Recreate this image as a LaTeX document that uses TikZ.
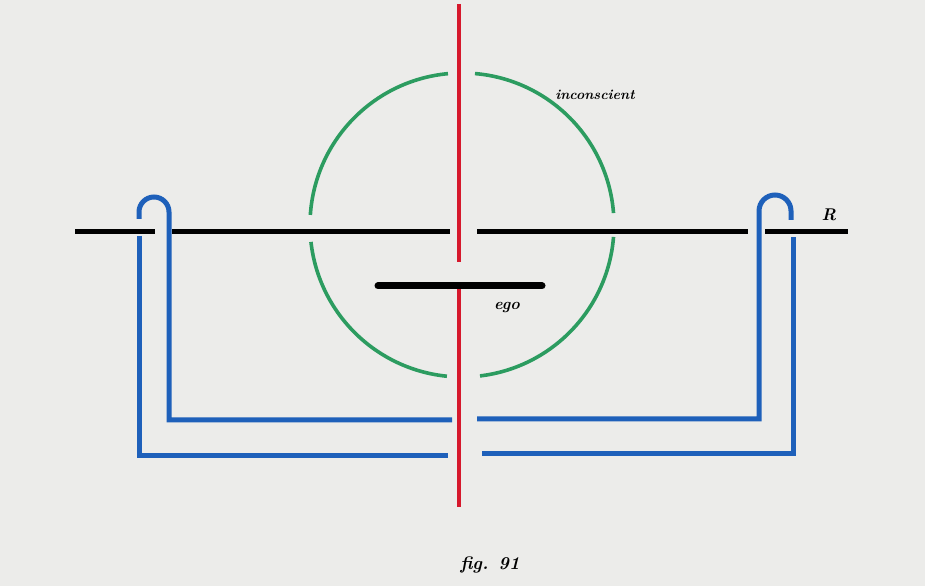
\documentclass[tikz,border=0pt]{standalone}
\usepackage{fontspec}
\definecolor{paper}{RGB}{236,236,234}
\definecolor{axisred}{RGB}{214,24,44}
\definecolor{ringgreen}{RGB}{44,156,96}
\definecolor{loopblue}{RGB}{30,96,186}
\begin{document}
\begin{tikzpicture}[x=1pt,y=1pt,
    redline/.style={axisred,line width=4pt},
    greenring/.style={ringgreen,line width=3.6pt},
    blackbar/.style={black,line width=5pt},
    knot/.style={loopblue,line width=5pt,line join=miter},
    hand/.style={font=\bfseries\itshape}]
    \useasboundingbox[fill=paper] (0,0) rectangle (925,586);

    % Red vertical: upper part and the T under the ego bar
    \draw[redline] (459,582) -- (459,324);
    \draw[redline] (459,300) -- (459,79);

    % Green circle, broken where the lines pass
    \draw[greenring] (462,361) ++(4.5:152) arc (4.5:85.1:152);
    \draw[greenring] (462,361) ++(95.3:152) arc (95.3:176.2:152);
    \draw[greenring] (462,361) ++(186.4:152) arc (186.4:264.3:152);
    \draw[greenring] (462,361) ++(276.8:152) arc (276.8:355.5:152);

    % Black line R, cut where the blue passes over it
    \draw[blackbar] (75,354) -- (155,354);
    \draw[blackbar] (172,354) -- (450,354);
    \draw[blackbar] (477,354) -- (748,354);
    \draw[blackbar] (765,354) -- (848,354);

    % Ego bar
    \draw[black,line width=7pt,line cap=round] (378,300) -- (542,300);

    % Blue loop: left half
    \draw[knot] (139,367) -- (139,374) arc (180:0:15) -- (169,166) -- (452,166);
    \draw[knot] (139,350) -- (139,130) -- (448,130);

    % Blue loop: right half
    \draw[knot] (477,167) -- (759,167) -- (759,375) arc (180:0:16) -- (791,366);
    \draw[knot] (482,132) -- (793,132) -- (793,349);

    % Labels
    \node[hand,font=\fontsize{14}{14}\selectfont\bfseries\itshape] (inconscient) at (595,491) {inconscient};
    \node[hand,font=\fontsize{17}{17}\selectfont\bfseries\itshape] (labelR) at (829,371) {R};
    \node[hand,font=\fontsize{16}{16}\selectfont\bfseries\itshape] (ego) at (507,278) {ego};
    \node[hand,font=\fontsize{18}{18}\selectfont\bfseries\itshape] (figcaption) at (490,21) {fig. 91};
\end{tikzpicture}
\end{document}
